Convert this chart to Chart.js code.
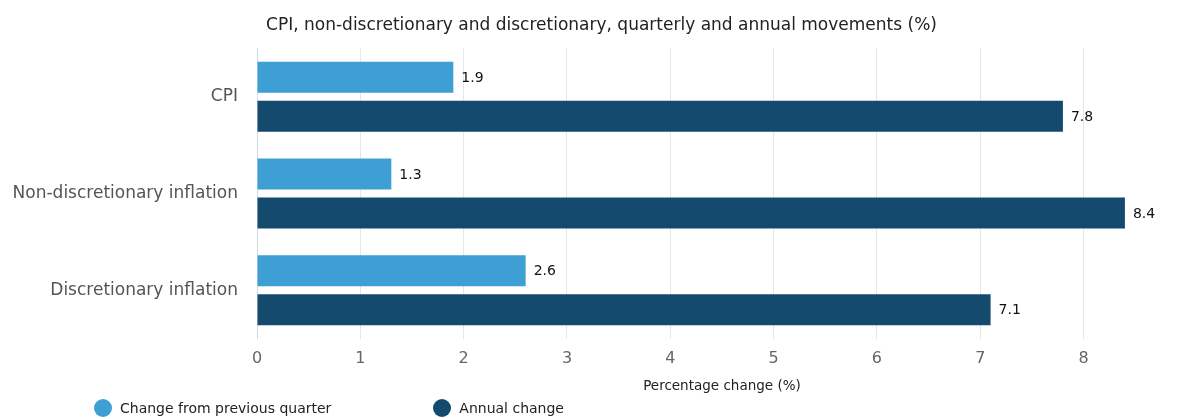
<!DOCTYPE html>
<html>
<head>
<meta charset="utf-8">
<script src="https://cdn.jsdelivr.net/npm/chart.js@4"></script>
<style>
  body { margin: 0; overflow: hidden; background: #fff; }
  #wrap { position: relative; width: 1203px; height: 419px; }
  #legend { position: absolute; left: 94px; top: 399px; font: 14px "DejaVu Sans", sans-serif; color: #222; white-space: nowrap; }
  #legend span.item { display: inline-block; margin-right: 102px; }
  #legend span.dot { display: inline-block; width: 18px; height: 18px; border-radius: 50%; vertical-align: -4px; margin-right: 8px; }
</style>
</head>
<body>
<div id="wrap">
  <canvas id="graphCanvas" width="1203" height="419"></canvas>
  <div id="legend"></div>
</div>
<script>
var categories = ['CPI', 'Non-discretionary inflation', 'Discretionary inflation'];
var quarterly = [1.9, 1.3, 2.6];
var annual = [7.8, 8.4, 7.1];
var xTicks = [0, 1, 2, 3, 4, 5, 6, 7, 8, 9];
var seriesNames = ['Change from previous quarter', 'Annual change'];
var seriesColors = ['#3d9fd3', '#144a6e'];

var fontFamily = '"DejaVu Sans", sans-serif';

// value labels at the end of each bar
var valueLabels = {
    id: 'valueLabels',
    afterDatasetsDraw: function (chart) {
        var ctx = chart.ctx;
        ctx.save();
        ctx.font = '14px ' + fontFamily;
        ctx.fillStyle = '#111';
        ctx.textBaseline = 'middle';
        ctx.textAlign = 'left';
        chart.data.datasets.forEach(function (ds, i) {
            chart.getDatasetMeta(i).data.forEach(function (bar, j) {
                ctx.fillText(ds.data[j].toFixed(1), bar.x + 8, bar.y + 1);
            });
        });
        ctx.restore();
    }
};

var chartdata = {
    labels: categories,
    datasets: [{
        label: seriesNames[0],
        backgroundColor: seriesColors[0],
        data: quarterly,
        categoryPercentage: 0.807,
        barPercentage: 0.795
    }, {
        label: seriesNames[1],
        backgroundColor: seriesColors[1],
        data: annual,
        categoryPercentage: 0.807,
        barPercentage: 0.795
    }]
};

var barGraph = new Chart(document.getElementById('graphCanvas'), {
    type: 'bar',
    data: chartdata,
    plugins: [valueLabels],
    options: {
        indexAxis: 'y',
        responsive: false,
        animation: false,
        layout: { padding: { bottom: 24 } },
        plugins: {
            legend: { display: false },
            tooltip: { enabled: false },
            title: {
                display: true,
                text: 'CPI, non-discretionary and discretionary, quarterly and annual movements (%)',
                color: '#222',
                font: { family: fontFamily, size: 17, weight: 'normal' },
                padding: { top: 15, bottom: 13 }
            }
        },
        scales: {
            x: {
                min: 0,
                max: 9,
                afterBuildTicks: function (scale) {
                    scale.ticks = xTicks.map(function (v) { return { value: v }; });
                },
                grid: { color: '#e6e6e6', drawTicks: false },
                border: { display: false },
                ticks: { color: '#666', padding: 11, font: { family: fontFamily, size: 16 } },
                title: {
                    display: true,
                    text: 'Percentage change (%)',
                    color: '#222',
                    font: { family: fontFamily, size: 13.5 },
                    padding: { top: -1, bottom: 0 }
                }
            },
            y: {
                grid: { display: false, drawTicks: false },
                border: { display: true, color: '#d5dae2' },
                afterFit: function (scale) { scale.width = 257; },
                ticks: { color: '#555', padding: 19, font: { family: fontFamily, size: 17 } }
            }
        }
    }
});

// legend built from the chart's datasets
var legendEl = document.getElementById('legend');
barGraph.data.datasets.forEach(function (ds) {
    var item = document.createElement('span');
    item.className = 'item';
    var dot = document.createElement('span');
    dot.className = 'dot';
    dot.style.background = ds.backgroundColor;
    item.appendChild(dot);
    item.appendChild(document.createTextNode(ds.label));
    legendEl.appendChild(item);
});
</script>
</body>
</html>
